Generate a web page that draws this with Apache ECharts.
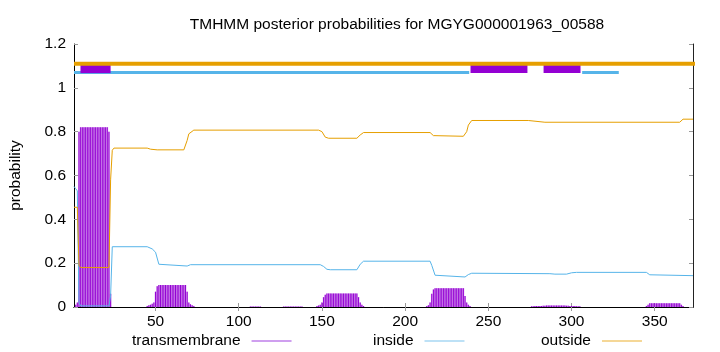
<!DOCTYPE html>
<html><head><meta charset="utf-8">
<script src="https://cdn.jsdelivr.net/npm/echarts@6/dist/echarts.min.js"></script>
<style>html,body{margin:0;padding:0;background:#fff}#c{width:720px;height:352px}</style>
</head><body><div id="c"></div>
<script>
const titleText = 'TMHMM posterior probabilities for MGYG000001963_00588';
const xTicks = [50, 100, 150, 200, 250, 300, 350];
const seqLength = 373;
const seriesNames = ['transmembrane', 'inside', 'outside'];

// transmembrane posterior (impulses), [residue, probability]
const tmPoints = [
  [2,0.01],[3,0.02],[4,0.80],[5,0.82],[6,0.82],[7,0.82],[8,0.82],[9,0.82],[10,0.82],[11,0.82],[12,0.82],[13,0.82],
  [14,0.82],[15,0.82],[16,0.82],[17,0.82],[18,0.82],[19,0.82],[20,0.82],[21,0.82],[22,0.80],[23,0.06],
  [45,0.005],[46,0.008],[47,0.01],[48,0.015],[49,0.02],[50,0.07],[51,0.095],[52,0.1],[53,0.1],[54,0.1],[55,0.1],
  [56,0.1],[57,0.1],[58,0.1],[59,0.1],[60,0.1],[61,0.1],[62,0.1],[63,0.1],[64,0.1],[65,0.1],[66,0.1],[67,0.1],
  [68,0.1],[69,0.07],[70,0.02],[71,0.012],[72,0.008],[73,0.005],
  [107,0.002],[108,0.002],[109,0.002],[110,0.002],[111,0.002],[112,0.002],[113,0.002],
  [127,0.002],[128,0.002],[129,0.002],[130,0.002],[131,0.002],[132,0.002],[133,0.002],[134,0.002],[135,0.002],
  [136,0.002],[137,0.002],[138,0.002],
  [147,0.004],[148,0.007],[149,0.01],[150,0.02],[151,0.045],[152,0.056],[153,0.062],[154,0.062],[155,0.062],
  [156,0.062],[157,0.062],[158,0.062],[159,0.062],[160,0.062],[161,0.062],[162,0.062],[163,0.062],[164,0.062],
  [165,0.062],[166,0.062],[167,0.062],[168,0.062],[169,0.062],[170,0.062],[171,0.062],[172,0.045],[173,0.02],
  [174,0.01],[175,0.004],
  [213,0.004],[214,0.008],[215,0.02],[216,0.06],[217,0.08],[218,0.086],[219,0.086],[220,0.086],[221,0.086],
  [222,0.086],[223,0.086],[224,0.086],[225,0.086],[226,0.086],[227,0.086],[228,0.086],[229,0.086],[230,0.086],
  [231,0.086],[232,0.086],[233,0.086],[234,0.086],[235,0.086],[236,0.05],[237,0.02],[238,0.01],[239,0.004],
  [276,0.003],[277,0.003],[278,0.004],[279,0.004],[280,0.004],[281,0.005],[282,0.005],[283,0.006],[284,0.006],
  [285,0.007],[286,0.007],[287,0.007],[288,0.007],[289,0.007],[290,0.007],[291,0.007],[292,0.007],[293,0.007],
  [294,0.007],[295,0.007],[296,0.007],[297,0.006],[298,0.006],[299,0.005],[300,0.005],[301,0.004],[302,0.004],
  [303,0.003],[304,0.003],[305,0.003],
  [345,0.005],[346,0.01],[347,0.017],[348,0.017],[349,0.017],[350,0.017],[351,0.017],[352,0.017],[353,0.017],
  [354,0.017],[355,0.017],[356,0.017],[357,0.017],[358,0.017],[359,0.017],[360,0.017],[361,0.017],[362,0.017],
  [363,0.017],[364,0.017],[365,0.017],[366,0.01],[367,0.004]
];

// inside posterior, [residue, probability]
const insidePoints = [
  [1,0.55],[2,0.54],[3,0.53],[4,0.02],[5,0.005],[22,0.005],[23,0.05],[24,0.275],[45,0.275],[48,0.265],[50,0.25],
  [52,0.195],[53,0.187],[69,0.187],[71,0.193],[149,0.193],[151,0.185],[153,0.172],[155,0.17],[171,0.17],
  [173,0.195],[175,0.209],[215,0.209],[216,0.19],[218,0.145],[219,0.137],[236,0.137],[238,0.148],[240,0.154],
  [287,0.152],[290,0.15],[297,0.15],[300,0.156],[303,0.158],[345,0.158],[347,0.147],[348,0.143],[373,0.143]
];

// outside posterior, [residue, probability]
const outsidePoints = [
  [1,0.455],[3,0.455],[4,0.19],[5,0.18],[22,0.18],[23,0.58],[24,0.715],[25,0.725],[45,0.725],[47,0.72],
  [51,0.717],[67,0.717],[69,0.76],[70,0.79],[73,0.807],[148,0.807],[150,0.8],[152,0.775],[154,0.77],[171,0.77],
  [173,0.785],[175,0.796],[215,0.796],[217,0.782],[218,0.779],[235,0.779],[237,0.8],[238,0.83],[240,0.851],
  [274,0.851],[284,0.843],[365,0.843],[367,0.857],[373,0.857]
];

// predicted topology segments drawn above the plot [start, end]
const tmSegments = [[4.9, 23], [239.3, 273.5], [283.2, 305.4]];
const insideSegments = [[1, 238.5], [306.4, 328.4]];
const outsideSegments = [[1, 390]];
const segLevels = { tm: 1.09, inside: 1.07, outside: 1.11 };

const C_TM = '#9400d3', C_IN = '#56b4e9', C_OUT = '#e69f00';
const FONT = 'Liberation Sans';
const FS = 15.5;

const series = [
  // pale fill between impulses (drawn on the mirrored top axis so it is not grouped with the impulses)
  { type: 'bar', xAxisIndex: 1, data: tmPoints, barWidth: 1.7, silent: true, itemStyle: { color: 'rgba(148,0,211,0.38)' }, z: 2 },
  { name: 'transmembrane', type: 'bar', data: tmPoints, barWidth: 1, itemStyle: { color: C_TM }, z: 3 },
  { name: 'inside', type: 'line', data: insidePoints, symbol: 'none', lineStyle: { color: C_IN, width: 1 }, itemStyle: { color: C_IN }, z: 4 },
  { name: 'outside', type: 'line', data: outsidePoints, symbol: 'none', lineStyle: { color: C_OUT, width: 1 }, itemStyle: { color: C_OUT }, z: 4 }
];
insideSegments.forEach(s => series.push({ type: 'line', data: [[s[0], segLevels.inside], [s[1], segLevels.inside]], symbol: 'none', silent: true, clip: false, lineStyle: { color: C_IN, width: 3, cap: 'butt' }, z: 5 }));
tmSegments.forEach(s => series.push({ type: 'line', data: [[s[0], segLevels.tm], [s[1], segLevels.tm]], symbol: 'none', silent: true, clip: false, lineStyle: { color: C_TM, width: 10, cap: 'butt' }, z: 6 }));
outsideSegments.forEach(s => series.push({ type: 'line', data: [[s[0], segLevels.outside], [s[1], segLevels.outside]], symbol: 'none', silent: true, clip: false, lineStyle: { color: C_OUT, width: 4, cap: 'butt' }, z: 7 }));

const legendColors = { transmembrane: '#a040e0', inside: '#7cc4ee', outside: '#ebb030' };
const mkLegend = (name, left) => ({
  data: [{ name: name, itemStyle: { color: legendColors[name] } }], left: left, top: 333, align: 'right', padding: 0,
  itemWidth: 40, itemHeight: 1.2, icon: 'rect',
  textStyle: { fontFamily: FONT, fontSize: FS, color: '#000', padding: [0, 6, 0, 0] }, selectedMode: false
});

const chart = echarts.init(document.getElementById('c'), null, { renderer: 'canvas' });
chart.setOption({
  animation: false,
  backgroundColor: '#fff',
  title: { text: titleText, left: 392, top: 12, textAlign: 'center', textStyle: { fontFamily: FONT, fontSize: FS, fontWeight: 'normal', color: '#000' } },
  grid: { left: 73, right: 27, top: 44, bottom: 45 },
  legend: [mkLegend('transmembrane', 132), mkLegend('inside', 373), mkLegend('outside', 541)],
  xAxis: [
    { type: 'value', min: 1, max: seqLength, position: 'bottom',
      axisLine: { lineStyle: { color: '#222', width: 1 } },
      axisTick: { inside: true, length: 4, customValues: xTicks, lineStyle: { color: '#999' } },
      axisLabel: { customValues: xTicks, margin: 7, fontFamily: FONT, fontSize: FS, color: '#000' },
      splitLine: { show: false } },
    { type: 'value', min: 1, max: seqLength, position: 'top',
      axisLine: { lineStyle: { color: '#000', width: 1 } },
      axisTick: { inside: true, length: 4, customValues: xTicks, lineStyle: { color: '#999' } },
      axisLabel: { show: false }, splitLine: { show: false } }
  ],
  yAxis: [
    { type: 'value', min: 0, max: 1.2, interval: 0.2, position: 'left',
      name: 'probability', nameLocation: 'middle', nameGap: 50, nameRotate: 90,
      nameTextStyle: { fontFamily: FONT, fontSize: FS, color: '#000' },
      axisLine: { show: true, lineStyle: { color: '#000', width: 1 } },
      axisTick: { show: true, inside: true, length: 4, lineStyle: { color: '#999' } },
      axisLabel: { margin: 8, fontFamily: FONT, fontSize: FS, color: '#000' },
      splitLine: { show: false } },
    { type: 'value', min: 0, max: 1.2, interval: 0.2, position: 'right',
      axisLine: { show: true, lineStyle: { color: '#222', width: 1 } },
      axisTick: { show: true, inside: true, length: 4, lineStyle: { color: '#999' } },
      axisLabel: { show: false }, splitLine: { show: false } }
  ],
  series: series
});
</script></body></html>
